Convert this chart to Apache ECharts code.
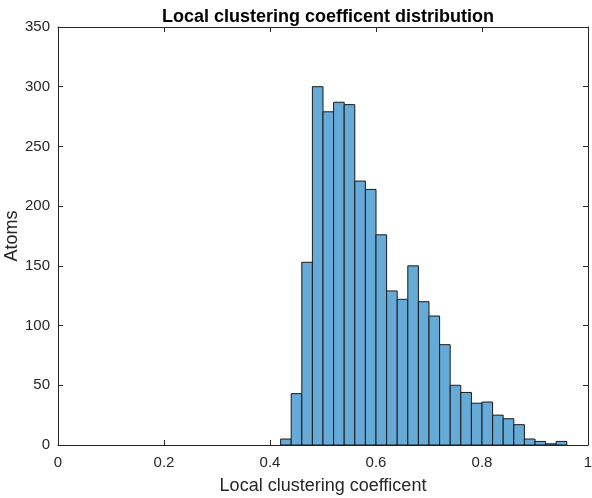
<!DOCTYPE html>
<html><head><meta charset="utf-8">
<script src="https://cdn.jsdelivr.net/npm/echarts@6/dist/echarts.min.js"></script>
<style>html,body{margin:0;padding:0;background:#fff}#c{width:592px;height:498px}</style>
</head><body><div id="c"></div>
<script>
const titleText = 'Local clustering coefficent distribution';
const xName = 'Local clustering coefficent';
const yName = 'Atoms';
const binEdges = [0.42,0.44,0.46,0.48,0.50,0.52,0.54,0.56,0.58,0.60,0.62,0.64,0.66,0.68,0.70,0.72,0.74,0.76,0.78,0.80,0.82,0.84,0.86,0.88,0.90,0.92,0.94,0.96];
const counts = [5,43,153,300,279,287,285,221,214,176,129,122,150,120,108,84,50,44,35,36,25,22,17,5,3,1,3];
const xRange = [0, 1], xStep = 0.2;
const yRange = [0, 350], yStep = 50;

const data = counts.map((c, i) => [binEdges[i], binEdges[i + 1], c]);
const font = '"Liberation Sans", Arial, Helvetica, sans-serif';
const ink = '#262626';

const chart = echarts.init(document.getElementById('c'), null, {renderer: 'canvas'});
function axisCommon() {
  return {
    axisLine: {show: true, onZero: false, lineStyle: {color: ink, width: 1}},
    axisTick: {show: true, inside: true, length: 5, lineStyle: {color: ink, width: 1}},
    splitLine: {show: false}
  };
}
chart.setOption({
  animation: false,
  backgroundColor: '#fff',
  title: {
    text: titleText, left: 323, textAlign: 'center', top: 3,
    textStyle: {fontFamily: font, fontSize: 18, fontWeight: 'bold', color: '#000'}
  },
  grid: {left: 58, right: 4, top: 27, bottom: 53, containLabel: false, outerBoundsMode: 'none'},
  xAxis: [
    Object.assign(axisCommon(), {
      type: 'value', min: xRange[0], max: xRange[1], interval: xStep, position: 'bottom',
      name: xName, nameLocation: 'middle', nameGap: 32, nameMoveOverlap: false,
      nameTextStyle: {fontFamily: font, fontSize: 18, color: ink},
      axisLabel: {fontFamily: font, fontSize: 15, color: ink, margin: 10}
    }),
    Object.assign(axisCommon(), {
      type: 'value', min: xRange[0], max: xRange[1], interval: xStep, position: 'top',
      axisLabel: {show: false}
    })
  ],
  yAxis: [
    Object.assign(axisCommon(), {
      type: 'value', min: yRange[0], max: yRange[1], interval: yStep, position: 'left',
      name: yName, nameLocation: 'middle', nameGap: 37, nameRotate: 90, nameMoveOverlap: false,
      nameTextStyle: {fontFamily: font, fontSize: 18, color: ink},
      axisLabel: {fontFamily: font, fontSize: 15, color: ink, margin: 8}
    }),
    Object.assign(axisCommon(), {
      type: 'value', min: yRange[0], max: yRange[1], interval: yStep, position: 'right',
      axisLabel: {show: false}
    })
  ],
  series: [{
    type: 'custom',
    xAxisIndex: 0, yAxisIndex: 0,
    encode: {x: [0, 1], y: 2},
    data: data,
    renderItem: function (params, api) {
      const x0 = api.value(0), x1 = api.value(1), v = api.value(2);
      const p0 = api.coord([x0, v]);
      const p1 = api.coord([x1, 0]);
      return {
        type: 'rect',
        shape: {x: p0[0], y: p0[1], width: p1[0] - p0[0], height: p1[1] - p0[1]},
        style: {fill: '#66aad7', stroke: '#1a1a1a', lineWidth: 1}
      };
    }
  }]
});
</script></body></html>
